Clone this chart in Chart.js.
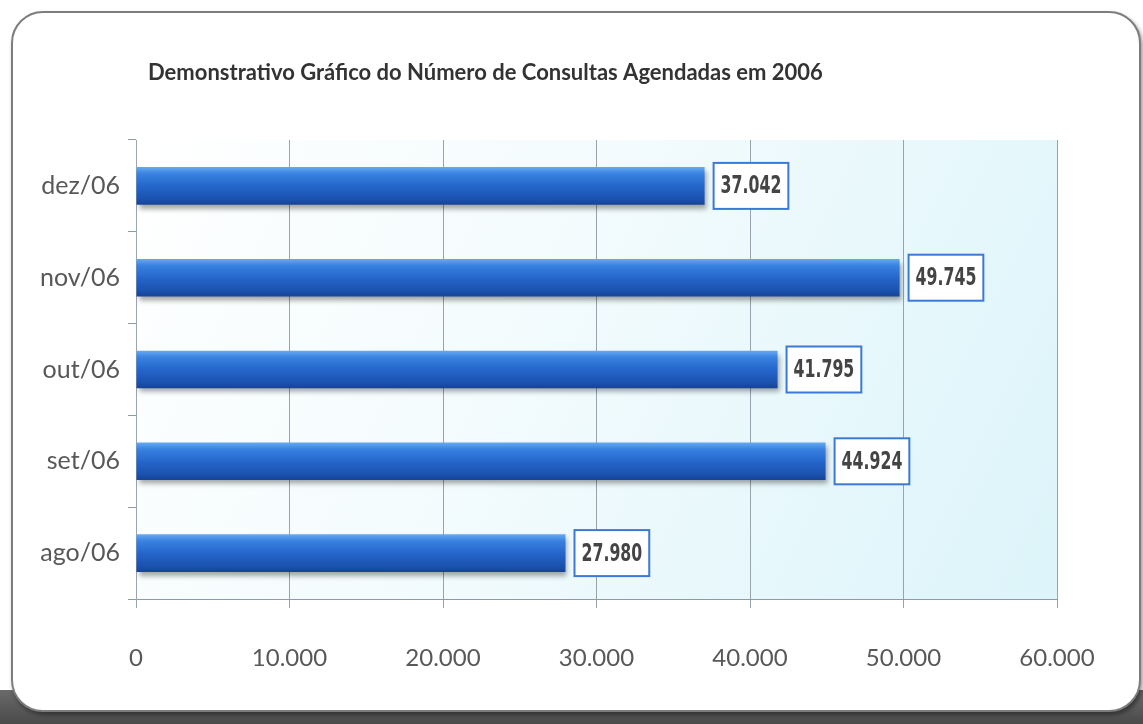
<!DOCTYPE html>
<html lang="pt-BR">
<head>
<meta charset="utf-8">
<title>Consultas Agendadas 2006</title>
<script src="https://cdn.jsdelivr.net/npm/chart.js@4.4.1/dist/chart.umd.min.js"></script>
<style>
  html, body { margin: 0; padding: 0; background: #ffffff; }
  body { width: 1143px; height: 724px; position: relative; overflow: hidden; }
  #sombra {
    position: absolute; left: 0; top: 690px; width: 1143px; height: 34px;
    background: linear-gradient(#6a6a6a, #4a4a4a);
  }
  #moldura {
    position: absolute; left: 11px; top: 11px; width: 1126px; height: 697px;
    border: 2px solid #7d7d7d; border-radius: 32px; background: #ffffff;
    box-shadow: 2px 3px 4px rgba(0,0,0,0.4);
  }
  #grafico { position: absolute; left: 0; top: 0; }
</style>
</head>
<body>
<div id="sombra"></div>
<div id="moldura"></div>
<canvas id="grafico" width="1143" height="724"></canvas>
<script>
// Dados do gráfico
const meses = ['ago/06', 'set/06', 'out/06', 'nov/06', 'dez/06'];
const consultas = [27980, 44924, 41795, 49745, 37042];
const ticksEixoX = [0, 10000, 20000, 30000, 40000, 50000, 60000];
const tituloGrafico = 'Demonstrativo Gráfico do Número de Consultas Agendadas em 2006';

// Formata números no padrão brasileiro (ponto como separador de milhar)
function formatarMilhar(valor) {
    return String(Math.round(valor)).replace(/\B(?=(\d{3})+(?!\d))/g, '.');
}

// Gradiente vertical de cada barra, calculado a partir da escala de categorias
function corDaBarra(contexto) {
    const chart = contexto.chart;
    const escalaY = chart.scales && chart.scales.y;
    if (!escalaY || !chart.chartArea) return '#2a68c8';
    const centro = escalaY.getPixelForValue(contexto.dataIndex);
    const meia = (escalaY.height / meses.length) * 0.41 / 2;
    const g = chart.ctx.createLinearGradient(0, centro - meia, 0, centro + meia);
    g.addColorStop(0, '#66aaf2');
    g.addColorStop(0.18, '#3882e0');
    g.addColorStop(0.5, '#2566cc');
    g.addColorStop(0.85, '#1b52ae');
    g.addColorStop(1, '#164396');
    return g;
}

// Fundo da área de plotagem (branco para ciano claro)
const pluginFundo = {
    id: 'fundoPlotagem',
    beforeDraw(chart) {
        const { ctx, chartArea: a } = chart;
        ctx.save();
        const g = ctx.createLinearGradient(a.left, a.top, a.right, a.bottom);
        g.addColorStop(0, '#ffffff');
        g.addColorStop(0.45, '#f2fbfd');
        g.addColorStop(1, '#dcf4fa');
        ctx.fillStyle = g;
        ctx.fillRect(a.left, a.top, a.right - a.left, a.bottom - a.top);
        ctx.restore();
    }
};

// Sombra projetada sob as barras
const pluginSombra = {
    id: 'sombraBarras',
    beforeDatasetsDraw(chart) {
        const ctx = chart.ctx;
        ctx.save();
        ctx.shadowColor = 'rgba(0, 0, 0, 0.35)';
        ctx.shadowBlur = 5;
        ctx.shadowOffsetX = 2;
        ctx.shadowOffsetY = 4;
    },
    afterDatasetsDraw(chart) {
        chart.ctx.restore();
    }
};

// Rótulos com moldura azul na ponta de cada barra
const pluginRotulos = {
    id: 'rotulosValores',
    afterDatasetsDraw(chart) {
        const ctx = chart.ctx;
        const meta = chart.getDatasetMeta(0);
        const estreitar = 0.7; // fonte condensada
        ctx.save();
        ctx.font = 'bold 25px "Liberation Sans Narrow", "DejaVu Sans Condensed", sans-serif';
        ctx.textBaseline = 'middle';
        ctx.textAlign = 'center';
        meta.data.forEach((barra, i) => {
            const texto = formatarMilhar(consultas[i]);
            const largura = ctx.measureText(texto).width * estreitar + 14;
            const altura = 46;
            const x = barra.x + 9;
            const y = barra.y - altura / 2;
            ctx.fillStyle = '#ffffff';
            ctx.fillRect(x, y, largura, altura);
            ctx.strokeStyle = '#3a7ad6';
            ctx.lineWidth = 2;
            ctx.strokeRect(x, y, largura, altura);
            ctx.save();
            ctx.translate(x + largura / 2, barra.y + 1);
            ctx.scale(estreitar, 1);
            ctx.fillStyle = '#444444';
            ctx.fillText(texto, 0, 0);
            ctx.restore();
        });
        ctx.restore();
    }
};

// Título no canto superior esquerdo
const pluginTitulo = {
    id: 'tituloCanto',
    afterDraw(chart) {
        const ctx = chart.ctx;
        ctx.save();
        ctx.font = 'bold 22px Lato, "Open Sans", sans-serif';
        ctx.fillStyle = '#333333';
        ctx.textBaseline = 'middle';
        ctx.fillText(tituloGrafico, 148, 73, 675);
        ctx.restore();
    }
};

new Chart(document.getElementById('grafico'), {
    type: 'bar',
    data: {
        labels: meses,
        datasets: [{
            label: 'Consultas agendadas',
            data: consultas,
            backgroundColor: corDaBarra,
            borderWidth: 0,
            categoryPercentage: 1,
            barPercentage: 0.41
        }]
    },
    options: {
        indexAxis: 'y',
        responsive: false,
        animation: false,
        layout: { padding: { left: 0, right: 86, top: 140, bottom: 0 } },
        plugins: {
            legend: { display: false },
            tooltip: { enabled: false },
            title: { display: false }
        },
        scales: {
            x: {
                min: 0,
                max: 60000,
                afterBuildTicks(escala) {
                    escala.ticks = ticksEixoX.map(v => ({ value: v }));
                },
                afterFit(escala) { escala.height = 125; },
                grid: { color: '#97a3ad', lineWidth: 1, tickLength: 9 },
                border: { color: '#8f9aa4' },
                ticks: {
                    padding: 36,
                    color: '#585858',
                    font: { family: 'Lato, "Open Sans", sans-serif', size: 24 },
                    callback: v => formatarMilhar(v)
                }
            },
            y: {
                reverse: true,
                afterFit(escala) { escala.width = 136; },
                grid: { offset: true, drawOnChartArea: false, tickLength: 8, color: '#8f9aa4' },
                border: { color: '#9aa5af' },
                ticks: {
                    padding: 8,
                    color: '#585858',
                    font: { family: 'Lato, "Open Sans", sans-serif', size: 25 }
                }
            }
        }
    },
    plugins: [pluginFundo, pluginSombra, pluginRotulos, pluginTitulo]
});
</script>
</body>
</html>
